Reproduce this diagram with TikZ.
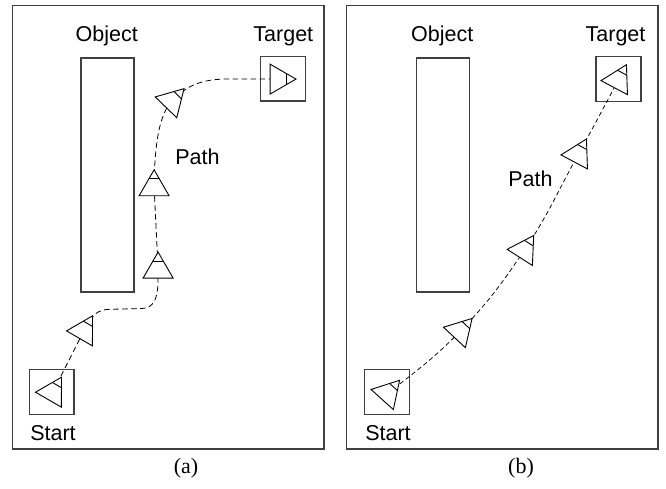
\documentclass[tikz,border=0pt]{standalone}
\usepackage{fontspec}
\setmainfont{Liberation Serif}
\newfontfamily\labfont{Liberation Sans}
\tikzset{
  frame/.style={draw=black!75, line width=1.2pt},
  obstacle/.style={draw=black!75, line width=1.1pt},
  markbox/.style={draw=black!75, line width=1.1pt},
  trail/.style={draw=black, line width=0.8pt, dash pattern=on 5.5pt off 3.5pt},
  trailb/.style={draw=black, line width=0.75pt, dash pattern=on 4.5pt off 3pt},
  robotline/.style={draw=black, line width=0.9pt, line join=miter},
  lab/.style={inner sep=0pt, anchor=base, font=\labfont\fontsize{21.5}{24}\selectfont},
  subcap/.style={inner sep=0pt, anchor=base, font=\fontsize{22}{24}\selectfont},
  robot/.pic={
    \draw[robotline, fill=white] (17.3,0) -- (-8.65,14.98) -- (-8.65,-14.98) -- cycle;
    \draw[robotline] (8.22,5.24) -- (8.22,-5.24);
  }
}
\begin{document}
\begin{tikzpicture}[x=1pt,y=1pt]
\useasboundingbox (0,0) rectangle (666,488);
% frames
\draw[frame] (12.7,39) rectangle (324,482.5);
\draw[frame] (346.3,39) rectangle (658,482.5);
% obstacles
\draw[obstacle] (81,196) rectangle (134,430);
\draw[obstacle] (416.3,196) rectangle (469.3,430);
% start / target boxes
\draw[markbox] (260.7,387) rectangle (305.3,431.3);
\draw[markbox] (596,386.5) rectangle (641,431.3);
\draw[markbox] (29.3,73.7) rectangle (74,118.7);
\draw[markbox] (364.7,73.7) rectangle (409.7,118.7);
% robot positions (a)
\coordinate (a1) at (52.8,95.8);
\coordinate (a2) at (83.8,157.1);
\coordinate (a3) at (158.1,218.6);
\coordinate (a4) at (154.1,300.9);
\coordinate (a5) at (172,386.9);
\coordinate (a6) at (278.7,408.9);
% robot positions (b)
\coordinate (b1) at (388,94.9);
\coordinate (b2) at (460.3,156.9);
\coordinate (b3) at (524.4,237.9);
\coordinate (b4) at (578.3,333.7);
\coordinate (b5) at (618.3,408);
% paths
\draw[trail] (a1) -- (a2) .. controls (92,172) and (96,178.5) .. (110,178.7)
  -- (142,179.5) .. controls (154,180) and (157.5,190) .. (158,205) -- (a3)
  -- (a4) .. controls (154.5,350) and (161,376) .. (a5)
  .. controls (184,399) and (196,409) .. (228,409) -- (a6);
\draw[trailb] (b1) to[out=38,in=226] (b2) to[out=46,in=236] (b3)
  to[out=56,in=241] (b4) to[out=61,in=242] (b5);
% robots (a)
\pic[rotate=60] at (a1) {robot};
\pic[rotate=60] at (a2) {robot};
\pic[rotate=90] at (a3) {robot};
\pic[rotate=90] at (a4) {robot};
\pic[rotate=46] at (a5) {robot};
\pic[rotate=0] at (a6) {robot};
% robots (b)
\pic[rotate=48] at (b1) {robot};
\pic[rotate=47] at (b2) {robot};
\pic[rotate=57.5] at (b3) {robot};
\pic[rotate=62] at (b4) {robot};
\pic[rotate=62] at (b5) {robot};
% labels
\node[lab] (objA) at (106.7,446.3) {Object};
\node[lab] (tgtA) at (283.3,446.3) {Target};
\node[lab] (pathA) at (197.5,323) {Path};
\node[lab] (startA) at (53,48) {Start};
\node[lab] (objB) at (442.2,446.3) {Object};
\node[lab] (tgtB) at (615.5,446.3) {Target};
\node[lab] (pathB) at (530.5,301.3) {Path};
\node[lab] (startB) at (388,48) {Start};
\node[subcap] (capA) at (186,15) {(a)};
\node[subcap] (capB) at (521,15) {(b)};
\end{tikzpicture}
\end{document}
